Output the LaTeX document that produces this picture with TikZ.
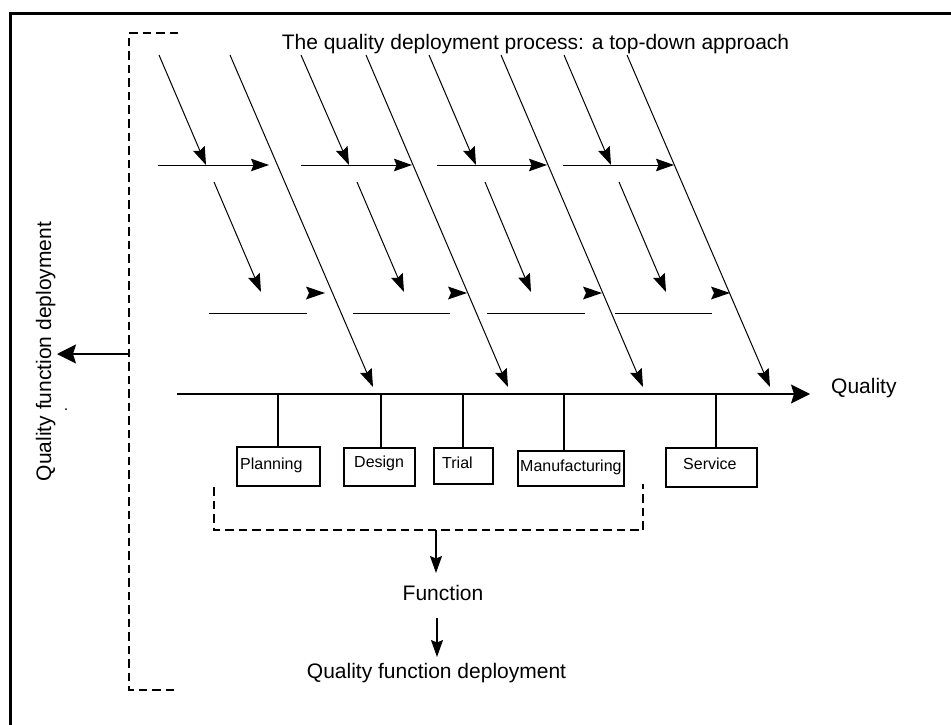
\documentclass[tikz,border=0pt]{standalone}
\usepackage{fontspec}
\setmainfont{Liberation Sans}
\usetikzlibrary{arrows.meta}
\tikzset{
 ln/.style={line width=1pt},
 tipa/.style={line width=1pt, -{Stealth[length=18pt,width=12.5pt,inset=2.5pt]}},
 bigtip/.style={line width=1.3pt, -{Stealth[length=19pt,width=19pt,inset=3pt]}},
 downtip/.style={line width=1.2pt, -{Stealth[length=17pt,width=12pt,inset=2.5pt]}},
 dsh/.style={line width=1.6pt, dash pattern=on 8.5pt off 5pt},
 box/.style={draw, line width=1.3pt, inner sep=0pt},
 boxtxt/.style={font=\fontsize{16}{19}\selectfont, inner sep=0pt, anchor=base west},
 bigtxt/.style={font=\fontsize{21}{25}\selectfont, inner sep=0pt},
 stub/.style={line width=1.2pt},
}
\begin{document}
\begin{tikzpicture}[x=1pt,y=-1pt]
\useasboundingbox (0,0) rectangle (951,725);
% outer frame
\coordinate (f1) at (10.7,740);
\coordinate (f2) at (10.7,13.3);
\coordinate (f3) at (965,13.3);
\draw[line width=2.6pt] (f1) -- (f2) -- (f3);

% title
\node[bigtxt, anchor=base] (title) at (535.5,50) {The quality deployment process: a top-down approach};

% fishbone
\foreach \i/\tx/\bx/\sa/\ea/\hs/\he/\sb/\eb/\ls/\le/\ah in {
1/230/373/159/206/158/269/214/261/209/307/325,
2/366/508/301/349/301/412/357/404/353/450/467,
3/501/643/429/476/437/547/485/531/487/585/602,
4/627/770/564/611/563/674/619/666/615/712/730}{
  \coordinate (T\i) at (\tx,55);
  \coordinate (B\i) at (\bx,387);
  \draw[tipa] (T\i) -- (B\i);
  \coordinate (SA\i) at (\sa,55);
  \coordinate (EA\i) at (\ea,165);
  \draw[tipa] (SA\i) -- (EA\i);
  \coordinate (HS\i) at (\hs,165);
  \coordinate (HE\i) at (\he,165);
  \draw[tipa] (HS\i) -- (HE\i);
  \coordinate (SB\i) at (\sb,182);
  \coordinate (EB\i) at (\eb,292);
  \draw[tipa] (SB\i) -- (EB\i);
  \coordinate (LS\i) at (\ls,313);
  \coordinate (LE\i) at (\le,313);
  \draw[ln] (LS\i) -- (LE\i);
  \coordinate (AH\i) at (\ah,293);
  \fill (AH\i) -- ++(-19,-6.5) -- ++(3,6.5) -- ++(-3,6.5) -- cycle;
}

% main axis
\coordinate (ax0) at (177,394);
\coordinate (ax1) at (810,394);
\draw[bigtip] (ax0) -- (ax1);
\node[bigtxt, anchor=base west] (qual) at (831,393) {Quality};

% boxes
\node[box, minimum width=83pt, minimum height=39pt] (plan) at (278.5,466.5) {};
\node[box, minimum width=71pt, minimum height=38pt] (des) at (379.5,467) {};
\node[box, minimum width=59pt, minimum height=36pt] (tri) at (463.5,466) {};
\node[box, minimum width=106pt, minimum height=35pt] (man) at (571,468.5) {};
\node[box, minimum width=91pt, minimum height=39pt] (ser) at (711.5,467.5) {};
\node[boxtxt] (plant) at (240,469) {Planning};
\node[boxtxt] (dest) at (354,467) {Design};
\node[boxtxt] (trit) at (442,468) {Trial};
\node[boxtxt] (mant) at (520,471) {Manufacturing};
\node[boxtxt] (sert) at (683,469) {Service};

\coordinate (s1) at (278,394);
\coordinate (s2) at (381,394);
\coordinate (s3) at (463,394);
\coordinate (s4) at (564,394);
\coordinate (s5) at (716,394);
\draw[stub] (s1) -- (s1 |- plan.north);
\draw[stub] (s2) -- (s2 |- des.north);
\draw[stub] (s3) -- (s3 |- tri.north);
\draw[stub] (s4) -- (s4 |- man.north);
\draw[stub] (s5) -- (s5 |- ser.north);

% bottom dashed bracket
\coordinate (bb1) at (214,487);
\coordinate (bb2) at (214,530);
\coordinate (bb3) at (643,530);
\coordinate (bb4) at (643,484);
\draw[dsh] (bb1) -- (bb2) -- (bb3) -- (bb4);
\coordinate (bbm) at (436,530);
\node[bigtxt, anchor=base] (fn) at (443,600) {Function};
\coordinate (fa) at (436,573);
\draw[downtip] (bbm) -- (fa);
\node[bigtxt, anchor=base] (qfd) at (436.5,678) {Quality function deployment};
\coordinate (a2) at (437,618);
\coordinate (a2e) at (437,657);
\draw[downtip] (a2) -- (a2e);

% left dashed bracket
\coordinate (lb1) at (178,33);
\coordinate (lb2) at (129,33);
\coordinate (lb3) at (129,690);
\coordinate (lb4) at (178,690);
\draw[dsh] (lb1) -- (lb2) -- (lb3) -- (lb4);
\coordinate (lbm) at (129,354);
\coordinate (lbt) at (57,354);
\draw[bigtip] (lbm) -- (lbt);
\node[bigtxt, rotate=90, anchor=base] (qfdv) at (51,351.5) {Quality function deployment};
\fill (66,409) circle (1pt);
\end{tikzpicture}
\end{document}
